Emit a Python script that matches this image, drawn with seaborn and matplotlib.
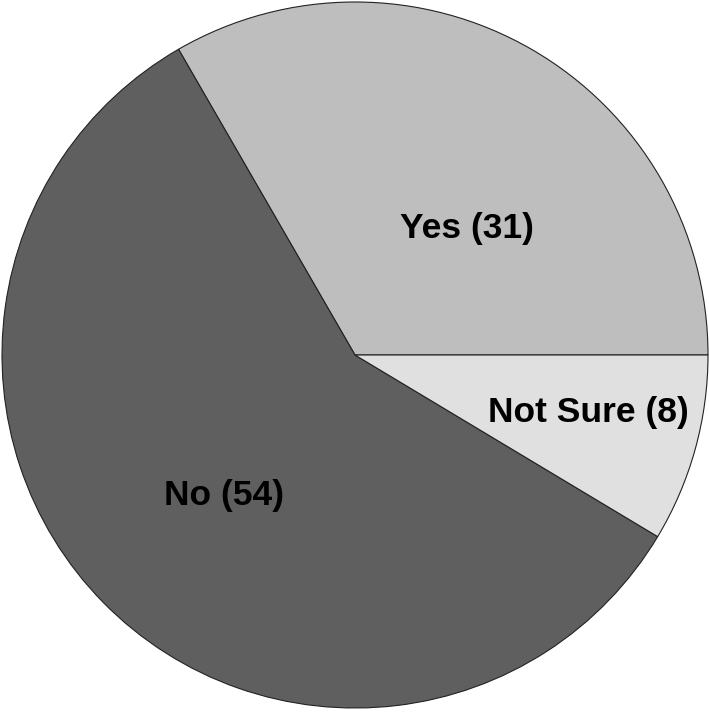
import matplotlib
matplotlib.use("Agg")
import matplotlib.pyplot as plt
import seaborn as sns
import numpy as np

# Survey answers
categories = ["Yes", "No", "Not Sure"]
counts = [31, 54, 8]
slice_colors = ["#bebebe", "#5f5f5f", "#e0e0e0"]

# label placement (distance from centre, angle in degrees)
label_dist = [0.48, 0.545, 0.68]
label_angle = [48.5, 227.0, -13.8]

sns.set_theme(style="white")
plt.rcParams['font.family'] = ['Liberation Sans', 'DejaVu Sans']

fig = plt.figure(figsize=(7.09, 7.13), dpi=100)
ax = fig.add_axes([0, 0, 1, 1])

ax.pie(counts, colors=slice_colors, startangle=0, counterclock=True,
       radius=1.0, wedgeprops=dict(edgecolor="#222222", linewidth=0.8))

for cat, n, d, a in zip(categories, counts, label_dist, label_angle):
    t = np.deg2rad(a)
    ax.text(d * np.cos(t), d * np.sin(t), f"{cat} ({n})",
            ha="center", va="center", fontsize=25.5, fontweight="bold",
            color="black")

scale = 353.0
ax.set_xlim(-355 / scale, (709 - 355) / scale)
ax.set_ylim(-358 / scale, 355 / scale)
ax.set_aspect("auto")
ax.axis("off")

fig.savefig("out.png", dpi=100)
